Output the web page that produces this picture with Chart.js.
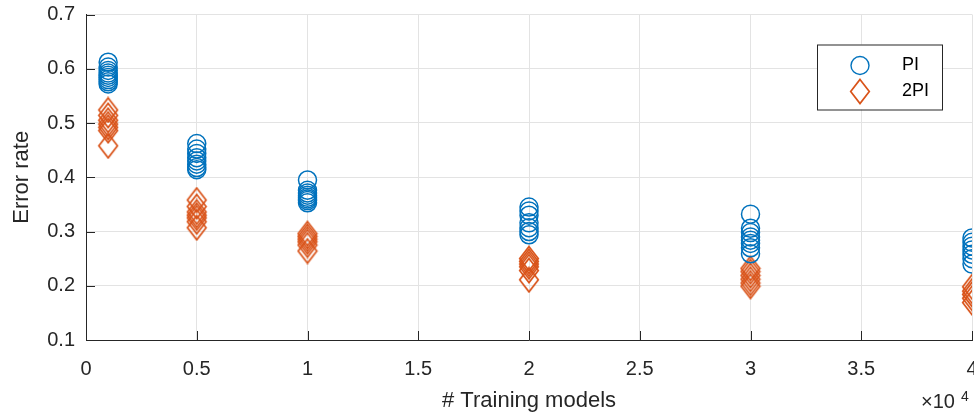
<!DOCTYPE html>
<html lang="en">
<head>
    <meta charset="UTF-8">
    <title>Error rate vs training models</title>
    <script src="https://cdn.jsdelivr.net/npm/chart.js"></script>
    <style>
        html, body {
            margin: 0;
            padding: 0;
            background-color: #fff;
            overflow: hidden;
        }

        .wrap {
            width: 990px;
            height: 414px;
        }
    </style>
</head>
<body>
    <div class="wrap">
        <canvas id="errChart" width="990" height="414"></canvas>
    </div>

    <script>
        // number of training models per run
        const trainSizes = [1000, 5000, 10000, 20000, 30000, 40000];

        // error rate of each repeated run, one list per training size
        const piErrors = [
            [0.612, 0.603, 0.597, 0.592, 0.588, 0.584, 0.580, 0.576, 0.572],
            [0.462, 0.452, 0.444, 0.436, 0.430, 0.424, 0.418, 0.414],
            [0.395, 0.376, 0.371, 0.367, 0.363, 0.360, 0.357, 0.353],
            [0.345, 0.338, 0.330, 0.316, 0.307, 0.300, 0.294],
            [0.332, 0.306, 0.298, 0.290, 0.284, 0.278, 0.270, 0.259],
            [0.288, 0.280, 0.273, 0.266, 0.258, 0.250, 0.240]
        ];
        const twoPiErrors = [
            [0.524, 0.514, 0.505, 0.498, 0.492, 0.486, 0.458],
            [0.358, 0.346, 0.336, 0.330, 0.325, 0.318, 0.307],
            [0.296, 0.291, 0.286, 0.281, 0.275, 0.264],
            [0.250, 0.245, 0.240, 0.235, 0.228, 0.211],
            [0.232, 0.226, 0.219, 0.212, 0.205, 0.199],
            [0.198, 0.190, 0.184, 0.177, 0.169]
        ];

        const yTickValues = [0.1, 0.2, 0.3, 0.4, 0.5, 0.6, 0.7];
        const xTickValues = [0, 5000, 10000, 15000, 20000, 25000, 30000, 35000, 40000];

        const blue = '#0072BD';
        const orange = '#D95319';
        const axisColor = '#262626';
        const fontName = '"Liberation Sans", Arial, sans-serif';

        function toPoints(sizes, errs) {
            const pts = [];
            sizes.forEach((n, i) => {
                errs[i].forEach(e => pts.push({ x: n, y: e }));
            });
            return pts;
        }

        // tall open diamond, as an image point style
        function makeDiamond(color) {
            const c = document.createElement('canvas');
            c.width = 22;
            c.height = 27;
            const g = c.getContext('2d');
            g.strokeStyle = color;
            g.lineWidth = 1.7;
            g.beginPath();
            g.moveTo(11, 1.5);
            g.lineTo(20.3, 13.5);
            g.lineTo(11, 25.5);
            g.lineTo(1.7, 13.5);
            g.closePath();
            g.stroke();
            return c;
        }
        const diamond = makeDiamond(orange);

        // inward tick marks, axis multiplier and the boxed legend
        const decorPlugin = {
            id: 'decor',
            afterDraw(chart) {
                const ctx = chart.ctx;
                const area = chart.chartArea;
                const xs = chart.scales.x;
                const ys = chart.scales.y;
                ctx.save();
                ctx.strokeStyle = axisColor;
                ctx.lineWidth = 1;
                ctx.beginPath();
                yTickValues.forEach(v => {
                    const py = Math.round(ys.getPixelForValue(v)) + 0.5;
                    ctx.moveTo(area.left, py);
                    ctx.lineTo(area.left + 9, py);
                });
                xTickValues.forEach(v => {
                    const px = Math.round(xs.getPixelForValue(v)) + 0.5;
                    ctx.moveTo(px, area.bottom);
                    ctx.lineTo(px, area.bottom - 9);
                });
                ctx.stroke();

                // x10^4 exponent label
                ctx.fillStyle = axisColor;
                ctx.textBaseline = 'alphabetic';
                ctx.textAlign = 'left';
                ctx.font = '20px ' + fontName;
                ctx.fillText('\u00d710', area.right - 51, 408);
                ctx.font = '14px ' + fontName;
                ctx.fillText('4', area.right - 11, 401);

                // legend
                const lx = area.right - 155;
                const ly = area.top + 30;
                const lw = 125;
                const lh = 65;
                ctx.fillStyle = '#fff';
                ctx.fillRect(lx, ly, lw, lh);
                ctx.strokeStyle = axisColor;
                ctx.strokeRect(lx + 0.5, ly + 0.5, lw, lh);

                ctx.strokeStyle = blue;
                ctx.lineWidth = 1.4;
                ctx.beginPath();
                ctx.arc(lx + 43, ly + 21, 9, 0, Math.PI * 2);
                ctx.stroke();
                ctx.drawImage(diamond, lx + 43 - 11, ly + 47 - 13.5);

                ctx.fillStyle = '#000';
                ctx.font = '18px ' + fontName;
                ctx.textBaseline = 'middle';
                ctx.fillText('PI', lx + 85, ly + 21);
                ctx.fillText('2PI', lx + 85, ly + 47);
                ctx.restore();
            }
        };

        new Chart(document.getElementById('errChart'), {
            type: 'scatter',
            data: {
                datasets: [{
                    label: 'PI',
                    data: toPoints(trainSizes, piErrors),
                    pointStyle: 'circle',
                    pointRadius: 9,
                    pointBorderWidth: 1.5,
                    borderColor: blue,
                    backgroundColor: 'rgba(0,0,0,0)'
                }, {
                    label: '2PI',
                    data: toPoints(trainSizes, twoPiErrors),
                    pointStyle: diamond,
                    pointRadius: 12,
                    borderColor: orange,
                    backgroundColor: 'rgba(0,0,0,0)'
                }]
            },
            options: {
                responsive: false,
                animation: false,
                events: [],
                layout: { padding: { top: 14.5, right: 18, left: 0, bottom: 0 } },
                plugins: {
                    legend: { display: false },
                    tooltip: { enabled: false }
                },
                scales: {
                    x: {
                        type: 'linear',
                        min: 0,
                        max: 40000,
                        afterFit(scale) {
                            scale.height = 74;
                            scale.paddingLeft = 0;
                            scale.paddingRight = 0;
                        },
                        afterBuildTicks(scale) {
                            scale.ticks = xTickValues.map(v => ({ value: v }));
                        },
                        ticks: {
                            padding: 17,
                            color: axisColor,
                            font: { family: fontName, size: 20 },
                            maxRotation: 0,
                            callback: v => String(v / 10000)
                        },
                        grid: { color: '#e3e3e3', drawTicks: false, lineWidth: 1 },
                        border: { color: axisColor, width: 1 },
                        title: {
                            display: true,
                            text: '# Training models',
                            color: axisColor,
                            font: { family: fontName, size: 22 },
                            padding: { top: 0, bottom: 0 }
                        }
                    },
                    y: {
                        min: 0.1,
                        max: 0.7,
                        afterFit(scale) {
                            scale.width = 86;
                            scale.paddingTop = 0;
                            scale.paddingBottom = 0;
                        },
                        afterBuildTicks(scale) {
                            scale.ticks = yTickValues.map(v => ({ value: v }));
                        },
                        ticks: {
                            padding: 11,
                            color: axisColor,
                            font: { family: fontName, size: 20 },
                            callback: v => v.toFixed(1)
                        },
                        grid: { color: '#e3e3e3', drawTicks: false, lineWidth: 1 },
                        border: { color: axisColor, width: 1 },
                        title: {
                            display: true,
                            text: 'Error rate',
                            color: axisColor,
                            font: { family: fontName, size: 22 },
                            padding: { top: 9, bottom: 0 }
                        }
                    }
                }
            },
            plugins: [decorPlugin]
        });
    </script>
</body>
</html>
